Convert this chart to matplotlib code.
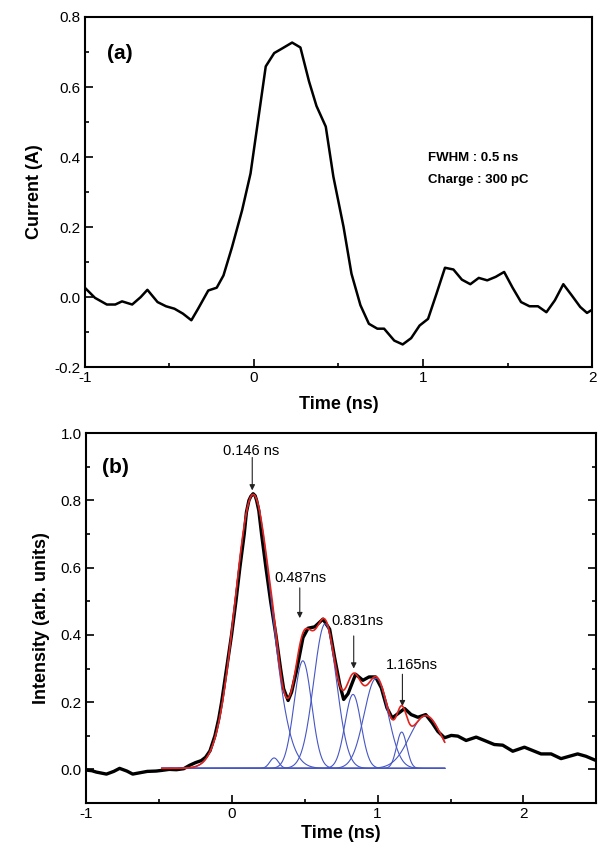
import numpy as np
import matplotlib
matplotlib.use("Agg")
import matplotlib.pyplot as plt
from matplotlib.ticker import MultipleLocator

plt.rcParams['font.family'] = ['Liberation Sans', 'DejaVu Sans']
plt.rcParams['axes.unicode_minus'] = False

# ---- (a) measured current pulse ----
t_a = [-1.0, -0.94, -0.87, -0.82, -0.78, -0.72, -0.67, -0.63, -0.57, -0.52,
       -0.47, -0.42, -0.37, -0.33, -0.27, -0.22, -0.18, -0.13, -0.07, -0.02,
       0.025, 0.07, 0.12, 0.17, 0.226, 0.275, 0.326, 0.37, 0.425, 0.47,
       0.53, 0.577, 0.63, 0.68, 0.73, 0.77, 0.83, 0.88, 0.93, 0.98,
       1.03, 1.08, 1.13, 1.18, 1.23, 1.28, 1.33, 1.38, 1.43, 1.48,
       1.53, 1.58, 1.63, 1.68, 1.73, 1.78, 1.83, 1.88, 1.93, 1.97, 2.0]
cur_a = [0.027, -0.002, -0.021, -0.021, -0.012, -0.021, 0.0, 0.021, -0.014, -0.026,
         -0.033, -0.047, -0.066, -0.033, 0.019, 0.027, 0.062, 0.142, 0.248, 0.353,
         0.506, 0.659, 0.697, 0.711, 0.727, 0.713, 0.616, 0.546, 0.487, 0.344,
         0.201, 0.067, -0.023, -0.076, -0.090, -0.090, -0.124, -0.135, -0.117, -0.081,
         -0.062, 0.010, 0.084, 0.079, 0.050, 0.037, 0.055, 0.048, 0.058, 0.072,
         0.027, -0.014, -0.026, -0.026, -0.043, -0.009, 0.037, 0.005, -0.028, -0.045, -0.036]

# ---- (b) measured intensity ----
t_b = [-1.00, -0.96, -0.93, -0.86, -0.81, -0.77, -0.72, -0.68, -0.63, -0.58,
       -0.52, -0.48, -0.43, -0.38, -0.33, -0.29, -0.25, -0.21, -0.18, -0.15,
       -0.116, -0.09, -0.07, -0.036, -0.002, 0.028, 0.055, 0.085, 0.10, 0.117,
       0.13, 0.146, 0.16, 0.17, 0.185, 0.204, 0.234, 0.266, 0.302, 0.334,
       0.355, 0.386, 0.41, 0.443, 0.488, 0.523, 0.568, 0.625, 0.671, 0.705,
       0.740, 0.767, 0.797, 0.849, 0.899, 0.941, 0.986, 1.025, 1.064, 1.10,
       1.146, 1.185, 1.23, 1.276, 1.33, 1.375, 1.413, 1.459, 1.505, 1.55,
       1.607, 1.676, 1.733, 1.80, 1.858, 1.927, 2.007, 2.064, 2.121, 2.19,
       2.258, 2.315, 2.372, 2.429, 2.50]
int_b = [-0.002, -0.004, -0.008, -0.014, -0.006, 0.003, -0.005, -0.014, -0.010, -0.006,
         -0.005, -0.003, 0.000, -0.001, 0.002, 0.012, 0.020, 0.026, 0.036, 0.055,
         0.10, 0.15, 0.20, 0.30, 0.40, 0.50, 0.60, 0.70, 0.765, 0.80,
         0.812, 0.82, 0.814, 0.80, 0.77, 0.70, 0.60, 0.50, 0.40, 0.30,
         0.24, 0.205, 0.23, 0.292, 0.392, 0.420, 0.424, 0.447, 0.417, 0.332,
         0.253, 0.208, 0.225, 0.283, 0.265, 0.275, 0.275, 0.243, 0.183, 0.153,
         0.168, 0.181, 0.163, 0.155, 0.163, 0.138, 0.113, 0.094, 0.101, 0.099,
         0.086, 0.096, 0.086, 0.074, 0.072, 0.054, 0.066, 0.056, 0.046, 0.046,
         0.032, 0.039, 0.046, 0.039, 0.026]

# gaussian fit components: centre (ns), amplitude, sigma (ns)
peak_c = [0.146, 0.29, 0.487, 0.64, 0.831, 0.99, 1.165, 1.33]
peak_a = [0.815, 0.031, 0.32, 0.43, 0.22, 0.268, 0.108, 0.157]
peak_s = [0.125, 0.03, 0.06, 0.078, 0.055, 0.082, 0.035, 0.11]
fit_base = 0.003
fit_lo, fit_hi = -0.48, 1.46

peak_labels = ['0.146 ns', '0.487ns', '0.831ns', '1.165ns']


def gauss(x, c, a, s):
    return a * np.exp(-(x - c) ** 2 / (2 * s ** 2))


def style_axis(ax):
    ax.tick_params(which='both', direction='in', labelsize=11, width=1.2)
    ax.tick_params(which='major', length=6, pad=3)
    ax.tick_params(which='minor', length=3)
    for sp in ax.spines.values():
        sp.set_linewidth(1.5)


fig = plt.figure(figsize=(6.06, 8.5), dpi=100)

# ---------------- panel (a) ----------------
ax1 = fig.add_axes([0.140, 0.568, 0.837, 0.412])
ax1.plot(t_a, cur_a, color='black', lw=1.8)
ax1.set_xlim(-1, 2)
ax1.set_ylim(-0.2, 0.8)
ax1.xaxis.set_major_locator(MultipleLocator(1))
ax1.xaxis.set_minor_locator(MultipleLocator(0.5))
ax1.yaxis.set_major_locator(MultipleLocator(0.2))
ax1.yaxis.set_minor_locator(MultipleLocator(0.1))
ax1.xaxis.set_major_formatter(plt.FuncFormatter(lambda v, p: '%d' % round(v)))
style_axis(ax1)
ax1.set_xlabel('Time (ns)', fontsize=13, fontweight='bold', labelpad=8)
ax1.set_ylabel('Current (A)', fontsize=13, fontweight='bold', labelpad=8)
ax1.text(-0.87, 0.697, '(a)', fontsize=15, fontweight='bold', va='center')
ax1.text(1.03, 0.397, 'FWHM : 0.5 ns', fontsize=9.5, fontweight='bold', va='center')
ax1.text(1.03, 0.334, 'Charge : 300 pC', fontsize=9.5, fontweight='bold', va='center')

# ---------------- panel (b) ----------------
ax2 = fig.add_axes([0.142, 0.0553, 0.842, 0.435])
ax2.plot(t_b, int_b, color='black', lw=2.4, zorder=2)

xf = np.linspace(fit_lo, fit_hi, 600)
total = np.full_like(xf, fit_base)
for c, a, s in zip(peak_c, peak_a, peak_s):
    g = gauss(xf, c, a, s)
    total += g
    ax2.plot(xf, fit_base + g, color='#4656c4', lw=0.8, zorder=3)
ax2.plot(xf, total, color='#e3231b', lw=1.2, zorder=4)

ax2.set_xlim(-1, 2.5)
ax2.set_ylim(-0.1, 1.0)
ax2.xaxis.set_major_locator(MultipleLocator(1))
ax2.xaxis.set_minor_locator(MultipleLocator(0.5))
ax2.yaxis.set_major_locator(MultipleLocator(0.2))
ax2.yaxis.set_minor_locator(MultipleLocator(0.1))
ax2.xaxis.set_major_formatter(plt.FuncFormatter(lambda v, p: '%d' % round(v)))
ax2.yaxis.set_major_formatter(plt.FuncFormatter(lambda v, p: '%.1f' % v if v >= -0.01 else ''))
style_axis(ax2)
ax2.tick_params(which='both', right=True)
ax2.set_xlabel('Time (ns)', fontsize=13, fontweight='bold', labelpad=3)
ax2.set_ylabel('Intensity (arb. units)', fontsize=13, fontweight='bold', labelpad=8)
ax2.text(-0.89, 0.898, '(b)', fontsize=15, fontweight='bold', va='center')

# peak labels with arrows
txt_pos = [(-0.06, 0.946), (0.29, 0.570), (0.685, 0.442), (1.06, 0.310)]
arr_pos = [(0.14, 0.928, 0.83), (0.466, 0.54, 0.45), (0.836, 0.397, 0.30), (1.17, 0.283, 0.188)]
for lab, (tx, ty), (ax_, y0, y1) in zip(peak_labels, txt_pos, arr_pos):
    ax2.text(tx, ty, lab, fontsize=10.5, va='center', ha='left')
    ax2.annotate('', xy=(ax_, y1), xytext=(ax_, y0),
                 arrowprops=dict(arrowstyle='-|>', color='#222222', lw=0.8,
                                 mutation_scale=8, shrinkA=0, shrinkB=0))

fig.savefig('out.png', dpi=100)
